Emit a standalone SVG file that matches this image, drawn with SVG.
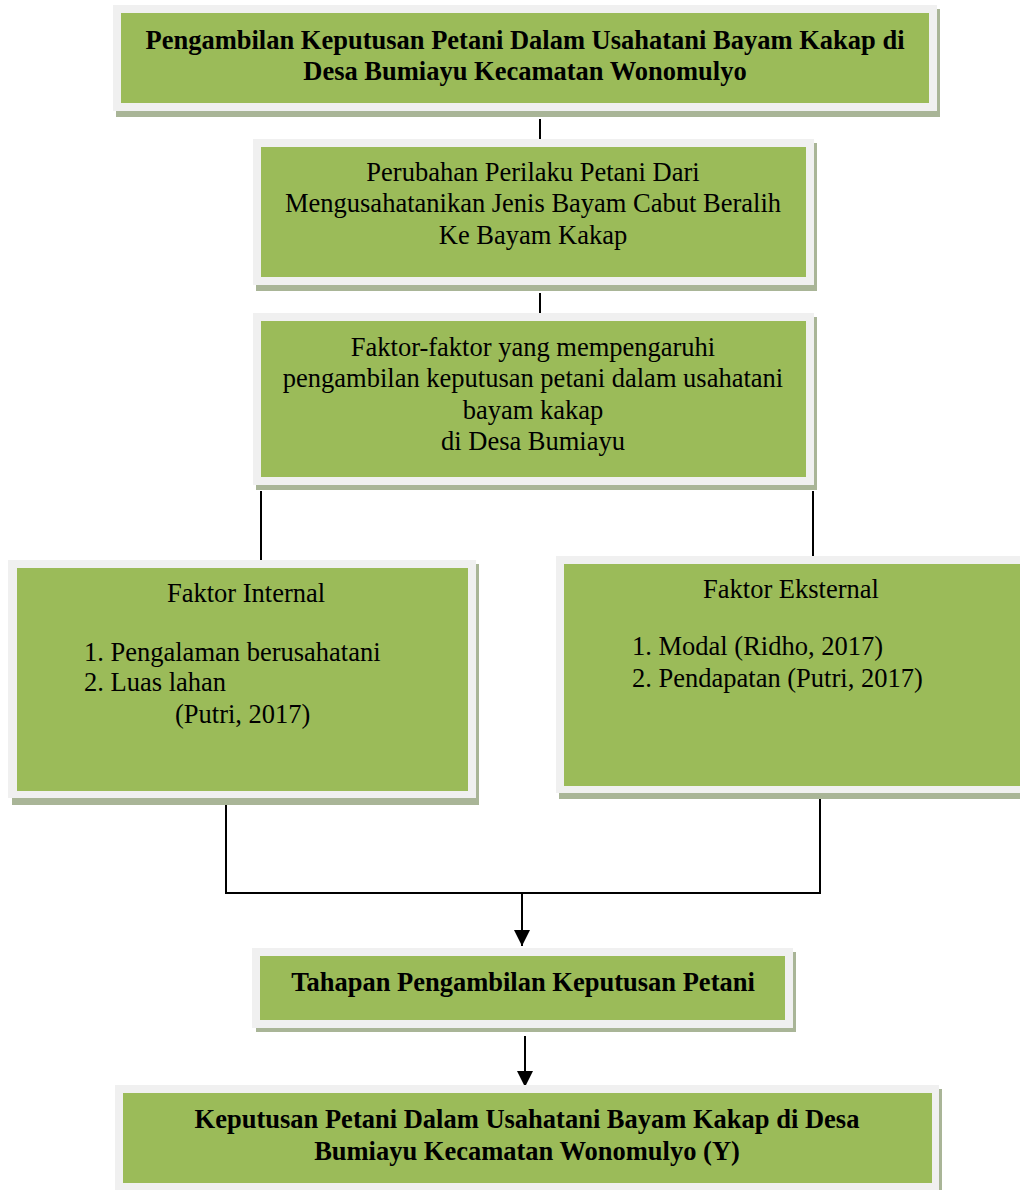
<svg xmlns="http://www.w3.org/2000/svg" width="1020" height="1190" viewBox="0 0 1020 1190">
<defs>
<style>
.sh{fill:#a9b597}
.fr{fill:#f0f0f0}
.gr{fill:#9bbb59}
.ln{stroke:#000;stroke-width:2;fill:none}
</style>
<marker id="ah" viewBox="0 0 10 10" refX="10" refY="5" markerWidth="16" markerHeight="16" markerUnits="userSpaceOnUse" orient="auto">
<path d="M0,0 L10,5 L0,10 z" fill="#000"/>
</marker>
</defs>
<rect width="1020" height="1190" fill="#fff"/>

<g id="connectors">
<line class="ln" x1="540" y1="119" x2="540" y2="143"/>
<line class="ln" x1="540" y1="293" x2="540" y2="317"/>
<line class="ln" x1="261" y1="491" x2="261" y2="563"/>
<line class="ln" x1="813" y1="491" x2="813" y2="560"/>
<polyline class="ln" points="226,805 226,893 820,893 820,799"/>
<line class="ln" x1="522" y1="893" x2="522" y2="946" marker-end="url(#ah)"/>
<line class="ln" x1="525" y1="1036" x2="525" y2="1087" marker-end="url(#ah)"/>
</g>

<g id="n1" font-family="Liberation Serif" font-size="26.5" font-weight="bold" text-anchor="middle">
<rect class="sh" x="116" y="9" width="824" height="108"/>
<rect class="fr" x="113" y="5" width="824" height="106"/>
<rect class="gr" x="121" y="13" width="808" height="90"/>
<text x="525" y="49">Pengambilan Keputusan Petani Dalam Usahatani Bayam Kakap di</text>
<text x="525" y="80">Desa Bumiayu Kecamatan Wonomulyo</text>
</g>

<g id="n2" font-family="Liberation Serif" font-size="26.5" text-anchor="middle">
<rect class="sh" x="256" y="143" width="561" height="148"/>
<rect class="fr" x="253" y="139" width="561" height="146"/>
<rect class="gr" x="261" y="147" width="545" height="130"/>
<text x="533" y="181">Perubahan Perilaku Petani Dari</text>
<text x="533" y="212">Mengusahatanikan Jenis Bayam Cabut Beralih</text>
<text x="533" y="244">Ke Bayam Kakap</text>
</g>

<g id="n3" font-family="Liberation Serif" font-size="26.5" text-anchor="middle">
<rect class="sh" x="256" y="317" width="561" height="173"/>
<rect class="fr" x="253" y="313" width="561" height="172"/>
<rect class="gr" x="261" y="321" width="545" height="156"/>
<text x="533" y="356">Faktor-faktor yang mempengaruhi</text>
<text x="533" y="387">pengambilan keputusan petani dalam usahatani</text>
<text x="533" y="419">bayam kakap</text>
<text x="533" y="450">di Desa Bumiayu</text>
</g>

<g id="n4" font-family="Liberation Serif" font-size="26.5">
<rect class="sh" x="12" y="564" width="467" height="241"/>
<rect class="fr" x="8" y="560" width="468" height="238"/>
<rect class="gr" x="17" y="568" width="451" height="223"/>
<text x="246" y="602" text-anchor="middle">Faktor Internal</text>
<text x="84" y="661">1. Pengalaman berusahatani</text>
<text x="84" y="691">2. Luas lahan</text>
<text x="175" y="723">(Putri, 2017)</text>
</g>

<g id="n5" font-family="Liberation Serif" font-size="26.5">
<rect class="sh" x="559" y="560" width="480" height="239"/>
<rect class="fr" x="556" y="556" width="480" height="237"/>
<rect class="gr" x="564" y="564" width="470" height="222"/>
<text x="791" y="598" text-anchor="middle">Faktor Eksternal</text>
<text x="632" y="655">1. Modal (Ridho, 2017)</text>
<text x="632" y="687">2. Pendapatan (Putri, 2017)</text>
</g>

<g id="n6" font-family="Liberation Serif" font-size="26.5" font-weight="bold" text-anchor="middle">
<rect class="sh" x="256" y="952" width="540" height="80"/>
<rect class="fr" x="252" y="948" width="541" height="80"/>
<rect class="gr" x="260" y="956" width="525" height="64"/>
<text x="523" y="991">Tahapan Pengambilan Keputusan Petani</text>
</g>

<g id="n7" font-family="Liberation Serif" font-size="26.5" font-weight="bold" text-anchor="middle">
<rect class="sh" x="118" y="1089" width="824" height="105"/>
<rect class="fr" x="115" y="1085" width="824" height="105"/>
<rect class="gr" x="123" y="1093" width="809" height="90"/>
<text x="527" y="1128">Keputusan Petani Dalam Usahatani Bayam Kakap di Desa</text>
<text x="527" y="1160">Bumiayu Kecamatan Wonomulyo (Y)</text>
</g>
</svg>
